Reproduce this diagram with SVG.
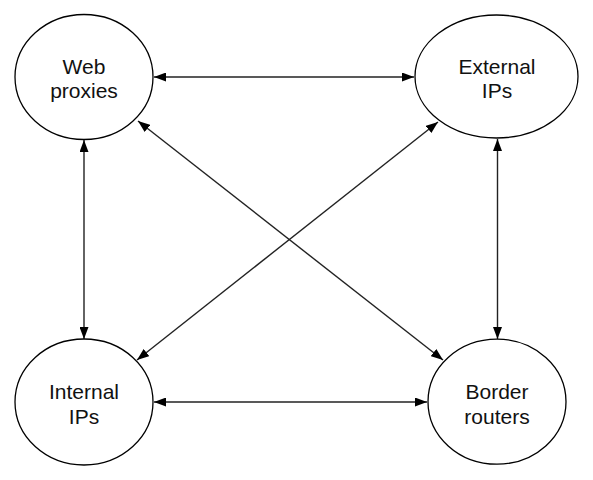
<svg xmlns="http://www.w3.org/2000/svg" width="593" height="480" viewBox="0 0 593 480">
<defs>
<marker id="ah" viewBox="0 0 12 9" refX="12" refY="4.5" markerWidth="12" markerHeight="9" markerUnits="userSpaceOnUse" orient="auto-start-reverse">
<path d="M0,0 L12,4.5 L0,9 Z" fill="#000"/>
</marker>
<style>
.node ellipse{fill:#fff;stroke:#000;stroke-width:1.3}
.node text{font-family:"Liberation Sans",Arial,sans-serif;font-size:21px;fill:#111;text-anchor:middle}
.edge{stroke:#222;stroke-width:1.4;fill:none;marker-start:url(#ah);marker-end:url(#ah)}
</style>
</defs>
<rect width="593" height="480" fill="#fff"/>
<g id="connectors">
<line class="edge" x1="154" y1="77" x2="414" y2="77"/>
<line class="edge" x1="154" y1="402" x2="427" y2="402"/>
<line class="edge" x1="84" y1="140" x2="84" y2="339"/>
<line class="edge" x1="497.5" y1="139" x2="497.5" y2="339"/>
<line class="edge" x1="138" y1="121" x2="443" y2="360"/>
<line class="edge" x1="438" y1="122" x2="137" y2="360"/>
</g>
<g id="web-proxies" class="node">
<ellipse cx="84" cy="77" rx="69" ry="62.5"/>
<text x="84" y="74">Web</text>
<text x="84" y="98">proxies</text>
</g>
<g id="external-ips" class="node">
<ellipse cx="496.5" cy="76.5" rx="81.5" ry="61.5"/>
<text x="497" y="74">External</text>
<text x="497" y="98">IPs</text>
</g>
<g id="internal-ips" class="node">
<ellipse cx="84" cy="402" rx="69" ry="63"/>
<text x="84" y="399">Internal</text>
<text x="84" y="423.5">IPs</text>
</g>
<g id="border-routers" class="node">
<ellipse cx="497" cy="401.7" rx="69" ry="62.5"/>
<text x="497" y="399">Border</text>
<text x="497" y="423.5">routers</text>
</g>
</svg>
